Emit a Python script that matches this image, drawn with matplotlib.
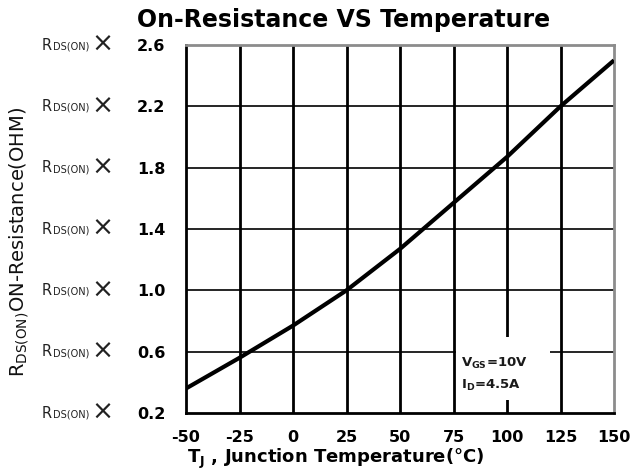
import matplotlib
matplotlib.use("Agg")
import matplotlib.pyplot as plt
import matplotlib.transforms as mtransforms
from matplotlib.patches import Rectangle

plt.rcParams['font.family'] = ['DejaVu Sans']
plt.rcParams['mathtext.fontset'] = 'dejavusans'

# Data
temps = [-50, -25, 0, 25, 50, 75, 100, 125, 150]
rds_on = [0.36, 0.56, 0.77, 1.00, 1.27, 1.57, 1.87, 2.20, 2.50]
x_ticks = [-50, -25, 0, 25, 50, 75, 100, 125, 150]
y_ticks = [0.2, 0.6, 1.0, 1.4, 1.8, 2.2, 2.6]
y_tick_labels = ["0.2", "0.6", "1.0", "1.4", "1.8", "2.2", "2.6"]

fig = plt.figure(figsize=(6.32, 4.75), dpi=100)
ax = fig.add_axes([186/632, 1 - 413/475, (614-186)/632, (413-45)/475])

ax.set_xlim(-50, 150)
ax.set_ylim(0.2, 2.6)

# Grid
for x in x_ticks[1:-1]:
    ax.axvline(x, color='black', lw=2.0, zorder=1)
for y in y_ticks[1:-1]:
    ax.axhline(y, color='black', lw=1.2, zorder=1)

# Condition box (white, covering grid)
ax.add_patch(Rectangle((76.2, 0.285), 44.0, 0.41, facecolor='white', edgecolor='none', zorder=2))
ax.text(78.5, 0.52, r"V$_{\mathregular{GS}}$=10V", fontsize=9.5, fontweight='bold',
        va='center', ha='left', color='#1a1a1a', zorder=3)
ax.text(78.5, 0.38, r"I$_{\mathregular{D}}$=4.5A", fontsize=9.5, fontweight='bold',
        va='center', ha='left', color='#1a1a1a', zorder=3)

ax.plot(temps, rds_on, color='black', lw=3.0, zorder=4, solid_capstyle='butt')

ax.set_xticks(x_ticks)
ax.set_xticklabels([str(v) for v in x_ticks], fontsize=11.5, fontweight='bold')
ax.set_yticks(y_ticks)
ax.set_yticklabels(y_tick_labels, fontsize=11.5, fontweight='bold')
ax.tick_params(axis='both', length=0)
ax.tick_params(axis='y', pad=15)
ax.tick_params(axis='x', pad=12)

for side in ['left', 'bottom']:
    ax.spines[side].set_linewidth(2.0)
    ax.spines[side].set_color('black')
for side in ['top', 'right']:
    ax.spines[side].set_linewidth(2.0)
    ax.spines[side].set_color('#8c8c8c')

# Prefix "R_DS(ON) x" before each y tick
trans = mtransforms.blended_transform_factory(fig.transFigure, ax.transData)
t2 = mtransforms.offset_copy(trans, fig=fig, x=0, y=-1.2, units='points')
for y in y_ticks:
    ax.text(42/632, y, "R", transform=trans, fontsize=10.5, ha='left', va='center',
            color='#222222', clip_on=False)
    ax.text(53/632, y, "DS(ON)", transform=t2, fontsize=7, ha='left', va='center',
            color='#222222', clip_on=False)
    ax.text(91/632, y, "\u00d7", transform=trans, fontsize=19, ha='left', va='center',
            color='#222222', clip_on=False)

fig.text(344/632, 1 - 20/475, "On-Resistance VS Temperature", fontsize=17,
         fontweight='bold', ha='center', va='center')

fig.text(19/632, 1 - 242/475, r"R$_{\mathregular{DS(ON)}}$ON-Resistance(OHM)", fontsize=14,
         rotation=90, ha='center', va='center', color='#111111')

fig.text(336/632, 1 - 459/475, r"T$_{\mathbf{J}}$ , Junction Temperature(°C)", fontsize=13,
         fontweight='bold', ha='center', va='center')

fig.savefig("out.png", dpi=100)
